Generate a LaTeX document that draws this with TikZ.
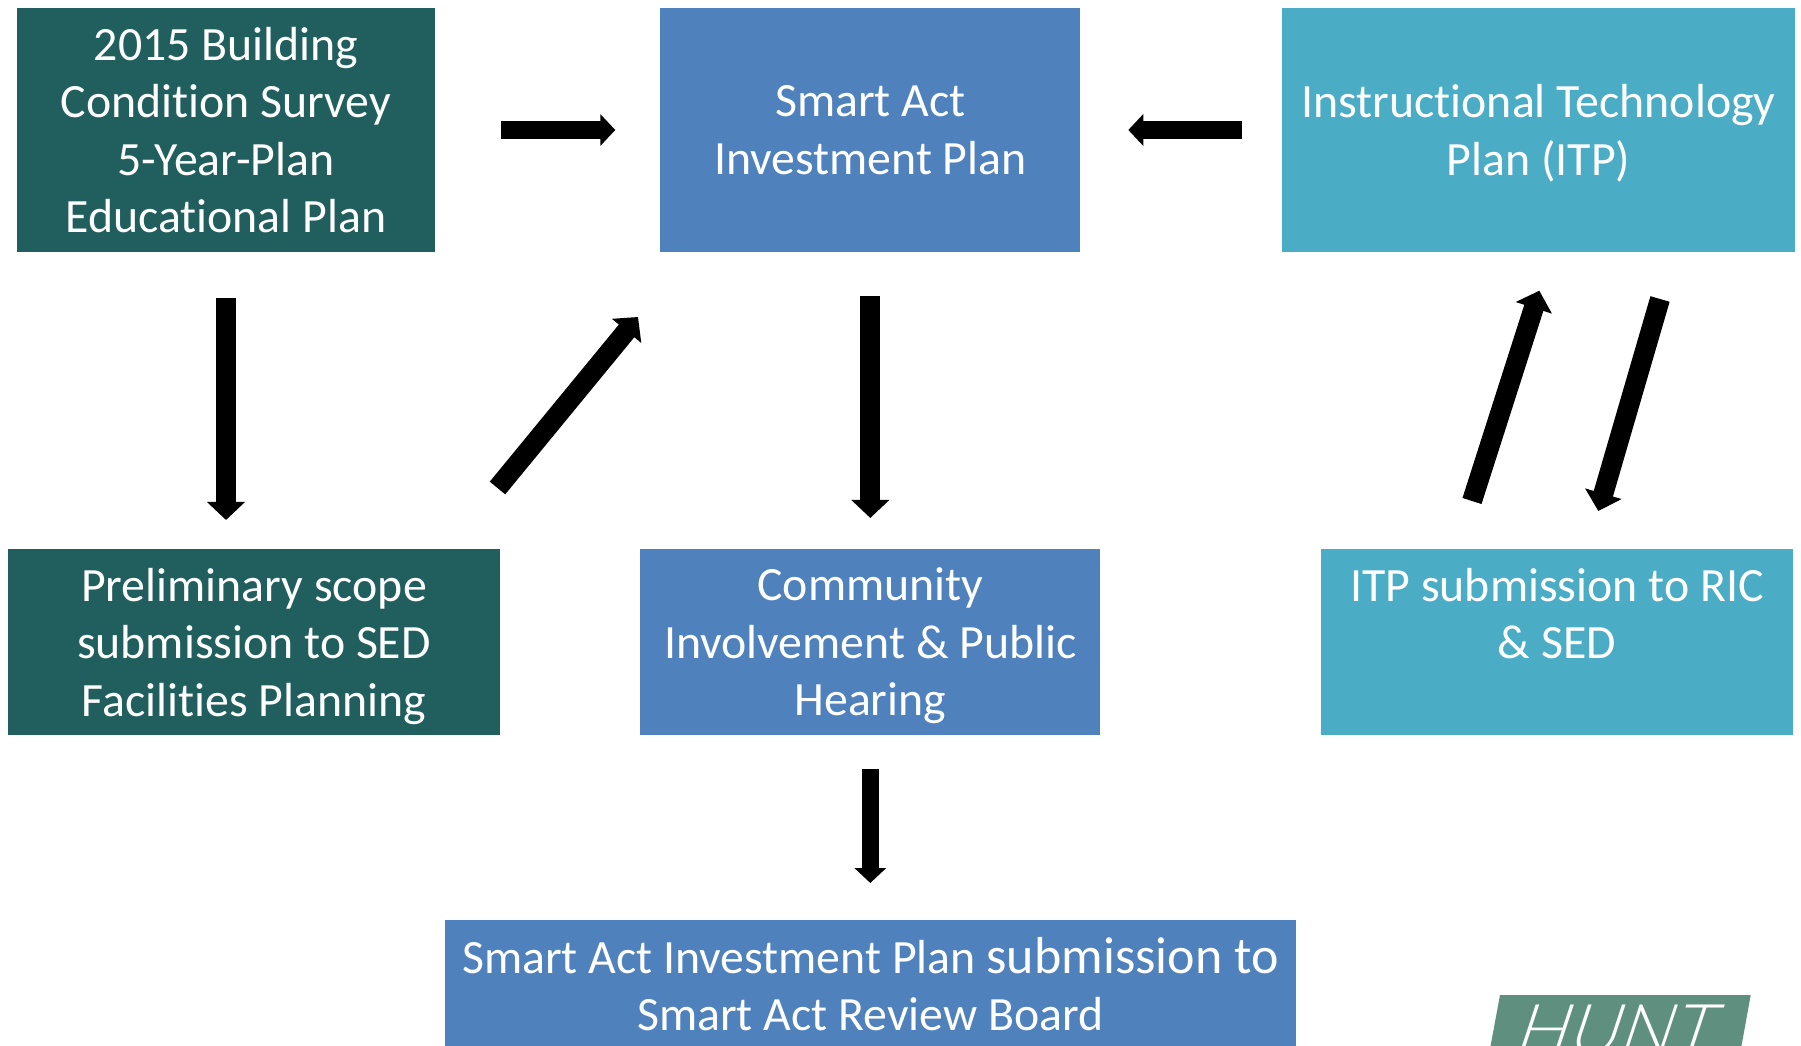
\documentclass[tikz,border=0pt]{standalone}
\usepackage{fontspec}
\setmainfont{Carlito}[Ligatures=NoCommon]
\newfontfamily\huntfont[FakeSlant=0.33]{Lato Light}
\usetikzlibrary{positioning, shapes, arrows.meta, calc}
\definecolor{mygreen}{RGB}{33, 95, 94}
\definecolor{myblue}{RGB}{79, 129, 189}
\definecolor{myteal}{RGB}{75, 172, 198}
\definecolor{mylogo}{RGB}{95, 144, 127}

\begin{document}
\begin{tikzpicture}[
   x=1pt, y=1pt,
   every node/.style     = {font=\fontsize{47.8}{57.5}\selectfont},
   boxNode/.style        = {rectangle, align=center, text=white, inner sep=0pt, outer sep=0pt},
   greenNode/.style      = {boxNode, fill=mygreen},
   blueNode/.style       = {boxNode, fill=myblue},
   tealNode/.style       = {boxNode, fill=myteal},
   myarrow/.style        = {-{Triangle[length=15pt, width=31pt]}, line width=17.5pt},
   bigarrow/.style       = {-{Triangle[length=18pt, width=37pt]}, line width=20pt}
]
\useasboundingbox (0,0) rectangle (1801,1045);

\node[greenNode, minimum width=418pt, minimum height=244pt] (survey) at (226,915) {2015 Building\\Condition Survey\\5-Year-Plan\\Educational Plan};
\node[blueNode, minimum width=420pt, minimum height=244pt, right=225.3pt of survey] (plan) {Smart Act\\Investment Plan};
\node[tealNode, minimum width=513pt, minimum height=244pt, right=201.7pt of plan] (itp) {Instructional Technology\\\smash{Plan (ITP)}};

\node[greenNode, minimum width=492pt, minimum height=186pt, below=297pt of survey, xshift=28pt] (prelim) {Preliminary scope\\submission to SED\\\smash{Facilities Planning}};
\node[blueNode, minimum width=460pt, minimum height=186pt, below=297pt of plan] (community) {Community\\Involvement \& Public\\\smash{Hearing}};
\node[tealNode, minimum width=472pt, minimum height=186pt, below=297pt of itp, xshift=18.5pt] (submit) {ITP submission to RIC\\\& SED\\\mbox{}};

\node[blueNode, minimum width=851pt, minimum height=128pt, below=185pt of community] (board) {Smart Act Investment Plan {\fontsize{52}{57.5}\selectfont submission to}\\Smart Act Review Board};

\fill[mylogo] (1500,50) -- (1750.7,50) -- (1738,-20) -- (1487,-20) -- cycle;
\node[text=white, inner sep=0pt, anchor=base, font=\fontsize{70}{70}\huntfont] (hunt) at (1611,-9) {HUNT};

\coordinate (prelimOut) at (497.5,557);
\coordinate (planIn) at (638,728);
\coordinate (itpIn) at (1539.3,754.3);
\coordinate (submitOut) at (1472,544);
\coordinate (itpOut) at (1660,746);
\coordinate (submitIn) at (1598.3,534);

\draw[myarrow, shorten <=66pt, shorten >=45pt] (survey) -- (plan);
\draw[myarrow, shorten <=40pt, shorten >=48pt] (itp) -- (plan);
\draw[bigarrow, shorten <=46pt, shorten >=29pt] (survey.south) -- (survey.south |- prelim.north);
\draw[bigarrow] (prelimOut) -- (planIn);
\draw[bigarrow, shorten <=44pt, shorten >=31pt] (plan) -- (community);
\draw[myarrow, shorten <=34pt, shorten >=37pt] (community) -- (board);
\draw[bigarrow] (submitOut) -- (itpIn);
\draw[bigarrow] (itpOut) -- (submitIn);
\end{tikzpicture}
\end{document}
